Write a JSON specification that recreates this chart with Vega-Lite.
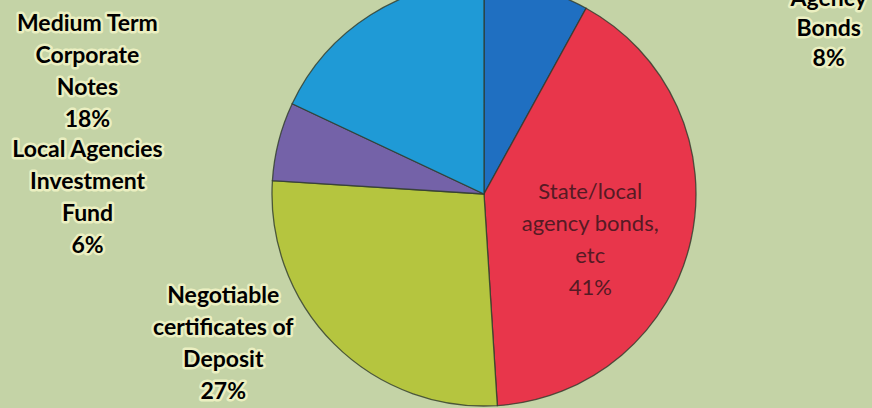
{
  "$schema": "https://vega.github.io/schema/vega-lite/v6.json",
  "width": 776,
  "height": 388,
  "autosize": {"type": "none"},
  "padding": {"left": 96, "top": 0, "right": 0, "bottom": 20},
  "background": "#c4d3a6",
  "config": {"view": {"stroke": null}},
  "data": {
    "values": [
      {"cat": "Agency Bonds", "label": "Agency\nBonds\n8%", "pct": 8, "idx": 1},
      {"cat": "State/local agency bonds, etc", "label": "State/local\nagency bonds,\netc\n41%", "pct": 41, "idx": 2},
      {"cat": "Negotiable certificates of Deposit", "label": "Negotiable\ncertificates of\nDeposit\n27%", "pct": 27, "idx": 3},
      {"cat": "Local Agencies Investment Fund", "label": "Local Agencies\nInvestment\nFund\n6%", "pct": 6, "idx": 4},
      {"cat": "Medium Term Corporate Notes", "label": "Medium Term\nCorporate\nNotes\n18%", "pct": 18, "idx": 5}
    ]
  },
  "encoding": {
    "theta": {"field": "pct", "type": "quantitative", "stack": true},
    "order": {"field": "idx", "type": "quantitative"}
  },
  "layer": [
    {
      "mark": {"type": "arc", "outerRadius": 212, "stroke": "#2f3b2c", "strokeWidth": 1.3, "strokeOpacity": 0.8},
      "encoding": {
        "color": {
          "field": "cat",
          "type": "nominal",
          "scale": {
            "domain": ["Agency Bonds", "State/local agency bonds, etc", "Negotiable certificates of Deposit", "Local Agencies Investment Fund", "Medium Term Corporate Notes"],
            "range": ["#1f6fc1", "#e8364b", "#b5c53f", "#7462a8", "#1f9ad6"]
          },
          "legend": null
        }
      }
    },
    {
      "mark": {"type": "text", "radius": 116, "dx": -7, "dy": -27, "font": "Lato", "fontSize": 22, "lineBreak": "\n", "lineHeight": 32, "align": "center", "baseline": "middle", "fill": "#561a24"},
      "encoding": {"text": {"condition": {"test": "datum.idx == 2", "field": "label"}, "value": ""}}
    },
    {
      "mark": {"type": "text", "radius": 240, "dx": 285, "dy": 37, "font": "Lato", "fontWeight": "bold", "fontSize": 23, "lineBreak": "\n", "lineHeight": 30, "align": "center", "baseline": "middle", "fill": "#f2f5c6", "stroke": "#f2f5c6", "strokeWidth": 5, "strokeJoin": "round", "opacity": 0.85},
      "encoding": {"text": {"condition": {"test": "datum.idx == 1", "field": "label"}, "value": ""}}
    },
    {
      "mark": {"type": "text", "radius": 240, "dx": 285, "dy": 37, "font": "Lato", "fontWeight": "bold", "fontSize": 23, "lineBreak": "\n", "lineHeight": 30, "align": "center", "baseline": "middle", "fill": "#000000"},
      "encoding": {"text": {"condition": {"test": "datum.idx == 1", "field": "label"}, "value": ""}}
    },
    {
      "mark": {"type": "text", "radius": 240, "dx": -91, "dy": -68, "font": "Lato", "fontWeight": "bold", "fontSize": 23, "lineBreak": "\n", "lineHeight": 32, "align": "center", "baseline": "middle", "fill": "#f2f5c6", "stroke": "#f2f5c6", "strokeWidth": 5, "strokeJoin": "round", "opacity": 0.85},
      "encoding": {"text": {"condition": {"test": "datum.idx == 3", "field": "label"}, "value": ""}}
    },
    {
      "mark": {"type": "text", "radius": 240, "dx": -91, "dy": -68, "font": "Lato", "fontWeight": "bold", "fontSize": 23, "lineBreak": "\n", "lineHeight": 32, "align": "center", "baseline": "middle", "fill": "#000000"},
      "encoding": {"text": {"condition": {"test": "datum.idx == 3", "field": "label"}, "value": ""}}
    },
    {
      "mark": {"type": "text", "radius": 240, "dx": -164, "dy": 16, "font": "Lato", "fontWeight": "bold", "fontSize": 23, "lineBreak": "\n", "lineHeight": 32, "align": "center", "baseline": "middle", "fill": "#f2f5c6", "stroke": "#f2f5c6", "strokeWidth": 5, "strokeJoin": "round", "opacity": 0.85},
      "encoding": {"text": {"condition": {"test": "datum.idx == 4", "field": "label"}, "value": ""}}
    },
    {
      "mark": {"type": "text", "radius": 240, "dx": -164, "dy": 16, "font": "Lato", "fontWeight": "bold", "fontSize": 23, "lineBreak": "\n", "lineHeight": 32, "align": "center", "baseline": "middle", "fill": "#000000"},
      "encoding": {"text": {"condition": {"test": "datum.idx == 4", "field": "label"}, "value": ""}}
    },
    {
      "mark": {"type": "text", "radius": 240, "dx": -268, "dy": 33, "font": "Lato", "fontWeight": "bold", "fontSize": 23, "lineBreak": "\n", "lineHeight": 32, "align": "center", "baseline": "middle", "fill": "#f2f5c6", "stroke": "#f2f5c6", "strokeWidth": 5, "strokeJoin": "round", "opacity": 0.85},
      "encoding": {"text": {"condition": {"test": "datum.idx == 5", "field": "label"}, "value": ""}}
    },
    {
      "mark": {"type": "text", "radius": 240, "dx": -268, "dy": 33, "font": "Lato", "fontWeight": "bold", "fontSize": 23, "lineBreak": "\n", "lineHeight": 32, "align": "center", "baseline": "middle", "fill": "#000000"},
      "encoding": {"text": {"condition": {"test": "datum.idx == 5", "field": "label"}, "value": ""}}
    }
  ]
}
